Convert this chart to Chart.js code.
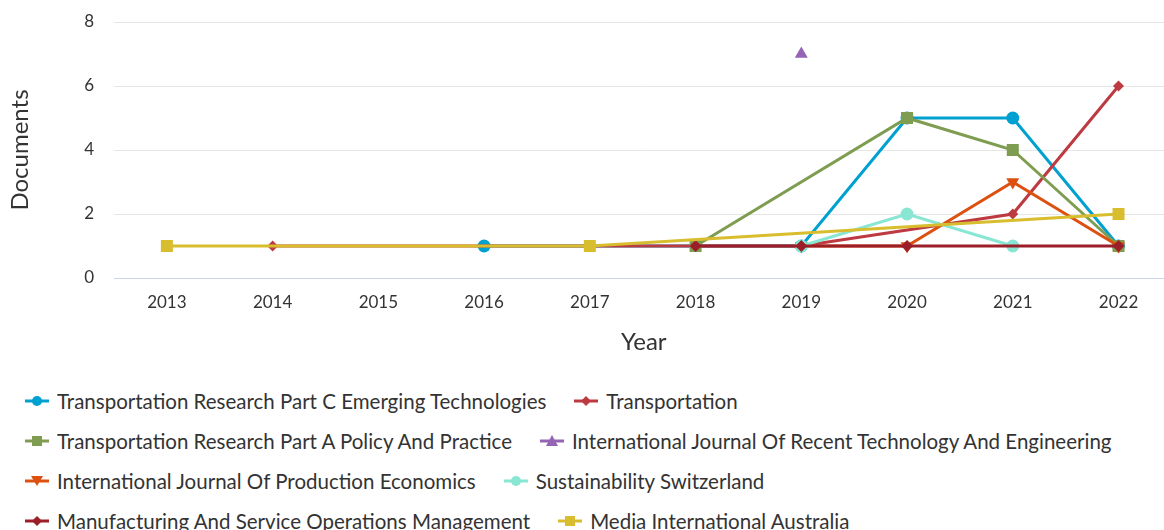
<!DOCTYPE html>
<html lang="en">
<head>
<meta charset="UTF-8">
<title>Documents per year by source</title>
<style>
    body {
        margin: 0;
        padding: 0;
        background: #fff;
        font-family: Lato, sans-serif;
        overflow: hidden;
    }
    /* a bit wider than the window: the plot runs past the right edge like the original */
    .chart-box {
        position: relative;
        width: 1182px;
        height: 370px;
    }
    #legend {
        padding-left: 25px;
        margin-top: 11px;
    }
    .legend-row {
        display: flex;
        height: 40px;
        align-items: center;
    }
    .legend-item {
        display: flex;
        align-items: center;
        margin-right: 28px;
        font-size: 20.5px;
        color: #333;
        white-space: nowrap;
    }
    .legend-item svg {
        margin-right: 8px;
    }
</style>
</head>
<body>
<div class="chart-box"><canvas id="chart"></canvas></div>
<div id="legend"></div>

<script src="https://cdn.jsdelivr.net/npm/chart.js"></script>
<script>
    const years = [2013, 2014, 2015, 2016, 2017, 2018, 2019, 2020, 2021, 2022];
    const yTicks = [0, 2, 4, 6, 8];

    const sourceNames = [
        'Transportation Research Part C Emerging Technologies',
        'Transportation',
        'Transportation Research Part A Policy And Practice',
        'International Journal Of Recent Technology And Engineering',
        'International Journal Of Production Economics',
        'Sustainability Switzerland',
        'Manufacturing And Service Operations Management',
        'Media International Australia'
    ];

    const trPartC        = [null, null, null, 1, null, null, 1, 5, 5, 1];
    const transportation = [null, 1, null, null, null, null, 1, null, 2, 6];
    const trPartA        = [null, null, null, null, null, 1, null, 5, 4, 1];
    const ijrte          = [null, null, null, null, null, null, 7, null, null, null];
    const ijpe           = [null, null, null, null, null, null, 1, 1, 3, 1];
    const sustainability = [null, null, null, null, null, null, 1, 2, 1, null];
    const manufacturing  = [null, null, null, null, null, 1, 1, 1, null, 1];
    const mediaIntAus    = [1, null, null, null, 1, null, null, null, null, 2];

    const seriesValues = [trPartC, transportation, trPartA, ijrte, ijpe, sustainability, manufacturing, mediaIntAus];
    const colors = ['#00A0D0', '#BE3A41', '#7E9D50', '#9664B4', '#DC5010', '#88E6D2', '#9B1E28', '#D8BE2E'];
    const markers = [
        { style: 'circle', radius: 6.5, rotation: 0 },
        { style: 'rectRot', radius: 5.5, rotation: 0 },
        { style: 'rect', radius: 8.5, rotation: 0 },
        { style: 'triangle', radius: 7.5, rotation: 0 },
        { style: 'triangle', radius: 7.5, rotation: 180 },
        { style: 'circle', radius: 6.5, rotation: 0 },
        { style: 'rectRot', radius: 6, rotation: 0 },
        { style: 'rect', radius: 8.5, rotation: 0 }
    ];

    const datasets = sourceNames.map((name, i) => ({
        label: name,
        data: seriesValues[i],
        borderColor: colors[i],
        backgroundColor: colors[i],
        borderWidth: 3,
        pointStyle: markers[i].style,
        pointRadius: markers[i].radius,
        pointRotation: markers[i].rotation,
        pointBorderWidth: 0,
        pointHoverRadius: markers[i].radius,
        spanGaps: true,
        tension: 0,
        order: sourceNames.length - i
    }));

    const ctx = document.getElementById('chart').getContext('2d');
    const chart = new Chart(ctx, {
        type: 'line',
        data: { labels: years, datasets: datasets },
        options: {
            responsive: true,
            maintainAspectRatio: false,
            animation: false,
            layout: { padding: { top: 22, left: 0, right: 0, bottom: 0 } },
            plugins: {
                legend: { display: false },
                tooltip: { enabled: false }
            },
            scales: {
                x: {
                    type: 'linear',
                    min: 2012.5,
                    max: 2022.52,
                    afterBuildTicks: (scale) => {
                        scale.ticks = years.map(v => ({ value: v }));
                    },
                    afterFit: (scale) => {
                        scale.height = 92;
                        scale.paddingLeft = 0;
                        scale.paddingRight = 0;
                    },
                    ticks: {
                        callback: (v) => String(v),
                        color: '#333',
                        padding: 14,
                        font: { family: 'Lato', size: 17 }
                    },
                    grid: { display: false, drawTicks: false },
                    border: { display: true, color: '#ccd6eb', width: 1 },
                    title: {
                        display: true,
                        text: 'Year',
                        color: '#333',
                        font: { family: 'Lato', size: 24 },
                        padding: { top: 0, bottom: 13 }
                    }
                },
                y: {
                    min: 0,
                    max: 8,
                    afterBuildTicks: (scale) => {
                        scale.ticks = yTicks.map(v => ({ value: v }));
                    },
                    afterFit: (scale) => {
                        scale.width = 114;
                        scale.paddingTop = 0;
                        scale.paddingBottom = 0;
                    },
                    ticks: {
                        color: '#333',
                        padding: 20,
                        font: { family: 'Lato', size: 17 }
                    },
                    grid: { color: '#e6e6e6', lineWidth: 1, drawTicks: false },
                    border: { display: false },
                    title: {
                        display: true,
                        text: 'Documents',
                        color: '#333',
                        font: { family: 'Lato', size: 24 },
                        padding: { top: 6, bottom: 0 }
                    }
                }
            }
        }
    });

    // legend in html, two sources per row like the original
    function markerSvg(i) {
        const c = colors[i];
        let shape = '';
        const m = markers[i];
        if (m.style === 'circle') {
            shape = `<circle cx="12" cy="7" r="5" fill="${c}"/>`;
        } else if (m.style === 'rectRot') {
            shape = `<polygon points="12,2 17,7 12,12 7,7" fill="${c}"/>`;
        } else if (m.style === 'rect') {
            shape = `<rect x="7" y="2" width="10" height="10" fill="${c}"/>`;
        } else if (m.rotation === 180) {
            shape = `<polygon points="6,2 18,2 12,12" fill="${c}"/>`;
        } else {
            shape = `<polygon points="12,1 18,12 6,12" fill="${c}"/>`;
        }
        return `<svg width="24" height="14"><line x1="0" y1="7" x2="24" y2="7" stroke="${c}" stroke-width="3"/>${shape}</svg>`;
    }

    const legendEl = document.getElementById('legend');
    for (let i = 0; i < chart.data.datasets.length; i += 2) {
        const row = document.createElement('div');
        row.className = 'legend-row';
        [i, i + 1].forEach(k => {
            const item = document.createElement('div');
            item.className = 'legend-item';
            item.innerHTML = markerSvg(k) + '<span>' + chart.data.datasets[k].label + '</span>';
            row.appendChild(item);
        });
        legendEl.appendChild(row);
    }
</script>
</body>
</html>
